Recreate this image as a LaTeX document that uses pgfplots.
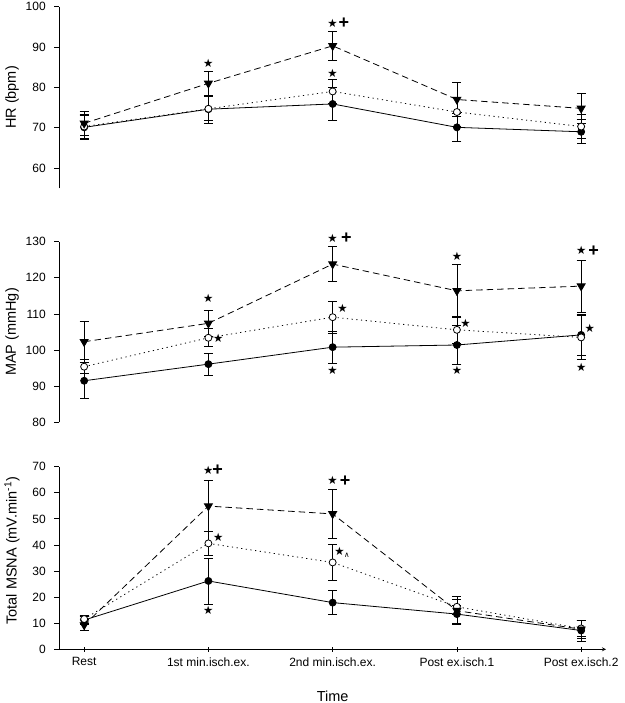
\documentclass[border=0pt]{standalone}
\usepackage{fontspec}
\setmainfont{Liberation Sans}
\newfontfamily\symfont{DejaVu Sans}
\usepackage{pgfplots}
\pgfplotsset{compat=1.18}

\pgfplotsset{
  panel/.style={
    scale only axis, width=546.7pt, xmin=-0.2, xmax=4.2,
    anchor=south west,
    axis y line=left,
    axis line style={-, black, line width=0.8pt},
    tick align=outside, major tick length=5pt,
    tick style={black, line width=0.8pt},
    ytick pos=left,
    clip=false,
    /pgf/number format/assume math mode=true,
    tick label style={font=\fontsize{12}{14}\selectfont},
    yticklabel style={xshift=-5pt},
    label style={font=\fontsize{14.5}{17}\selectfont},
    ylabel style={at={(axis description cs:-0.0865,0.5)}, anchor=center},
  },
  errs/.style={error bars/.cd, y dir=both, y explicit,
    error bar style={black, line width=0.8pt, solid},
    error mark options={rotate=90, mark size=4.5pt, line width=0.8pt, black, solid}},
  serT/.style={black, line width=0.8pt, dash pattern=on 6.5pt off 4pt,
    mark=triangle*, mark size=4.6pt, mark options={solid, rotate=180, fill=black}, errs},
  serO/.style={black, line width=0.8pt, dash pattern=on 1.2pt off 3.5pt,
    mark=*, mark size=3.5pt, mark options={solid, fill=white, draw=black}, errs},
  serF/.style={black, line width=0.8pt, solid,
    mark=*, mark size=3.5pt, mark options={solid, fill=black}, errs},
}
\tikzset{
  star/.style={font=\symfont\fontsize{11.5}{12}\selectfont, inner sep=0pt},
  plus/.style={font=\bfseries\fontsize{18}{18}\selectfont, inner sep=0pt},
}

\begin{document}
\begin{tikzpicture}[x=1pt,y=1pt]
\useasboundingbox (0,0) rectangle (624,703);

% ---------------- HR ----------------
\begin{axis}[panel, at={(59.3pt,514.7pt)}, height=181.6pt,
  ymin=55, ymax=100, ytick={60,70,80,90,100},
  axis x line=none, xtick=\empty,
  ylabel={HR (bpm)}]
\addplot[serF] coordinates {
 (0,70.1) +- (0,3.0) (1,74.6) +- (0,3.5) (2,75.9) +- (0,4.1) (3,70.1) +- (0,3.5) (4,69.0) +- (0,3.0)};
\addplot[serO] coordinates {
 (0,70.3) +- (0,3.0) (1,74.7) +- (0,3.0) (2,79.0) +- (0,3.0) (3,73.9) +- (0,3.5) (4,70.3) +- (0,3.0)};
\addplot[serT] coordinates {
 (0,71.1) +- (0,2.9) (1,81.0) +- (0,2.9) (2,90.3) +- (0,3.5) (3,77.0) +- (0,4.2) (4,74.8) +- (0,3.7)};
\node[star] at (axis cs:1,86.0) {★};
\node[star] at (axis cs:2,95.9) {★};
\node[plus] at (axis cs:2.09,95.9) {+};
\node[star] at (axis cs:2,83.6) {★};
\end{axis}

% ---------------- MAP ----------------
\begin{axis}[panel, at={(59.3pt,280.7pt)}, height=180.6pt,
  ymin=80, ymax=130, ytick={80,90,100,110,120,130},
  axis x line=none, xtick=\empty,
  ylabel={MAP (mmHg)}]
\addplot[serF] coordinates {
 (0,91.5) +- (0,5.0) (1,96.1) +- (0,3.0) (2,100.8) +- (0,4.5) (3,101.4) +- (0,5.5) (4,104.2) +- (0,5.8)};
\addplot[serO] coordinates {
 (0,95.4) +- (0,2.0) (1,103.4) +- (0,2.5) (2,109.1) +- (0,4.5) (3,105.6) +- (0,3.7) (4,103.5) +- (0,6.0)};
\addplot[serT] coordinates {
 (0,102.3) +- (0,5.7) (1,107.4) +- (0,3.5) (2,123.8) +- (0,4.8) (3,116.4) +- (0,7.3) (4,117.7) +- (0,7.2)};
\node[star] at (axis cs:1,114.3) {★};
\node[star] at (axis cs:1.08,103.2) {★};
\node[star] at (axis cs:2,130.9) {★};
\node[plus] at (axis cs:2.11,130.9) {+};
\node[star] at (axis cs:2.08,111.6) {★};
\node[star] at (axis cs:2,94.5) {★};
\node[star] at (axis cs:3,125.8) {★};
\node[star] at (axis cs:3.07,107.4) {★};
\node[star] at (axis cs:3,94.5) {★};
\node[star] at (axis cs:4,127.5) {★};
\node[plus] at (axis cs:4.1,127.5) {+};
\node[star] at (axis cs:4.07,106.0) {★};
\node[star] at (axis cs:4,95.1) {★};
\end{axis}

% ---------------- MSNA ----------------
\begin{axis}[panel, at={(59.3pt,53.7pt)}, height=182.6pt,
  ymin=0, ymax=70, ytick={0,10,...,70},
  axis x line=bottom, xtick={0,1,2,3,4}, xtick pos=left,
  xticklabels={Rest,1st min.isch.ex.,2nd min.isch.ex.,Post ex.isch.1,Post ex.isch.2},
  xticklabel style={yshift=-2pt},
  xlabel={Time},
  xlabel style={at={(axis description cs:0.5,0)}, anchor=center, yshift=-46.7pt},
  ylabel style={at={(axis description cs:-0.0865,0.54)}},
  ylabel={Total MSNA (mV.min\textsuperscript{-1})}]
\addplot[serF] coordinates {
 (0,11.2) +- (0,1.5) (1,26.2) +- (0,8.8) (2,17.9) +- (0,4.6) (3,13.5) +- (0,3.5) (4,7.2) +- (0,4.0)};
\addplot[serO] coordinates {
 (0,11.6) +- (0,1.5) (1,40.6) +- (0,4.5) (2,33.3) +- (0,6.8) (3,16.3) +- (0,3.0) (4,8.0) +- (0,3.0)};
\addplot[serT] coordinates {
 (0,9.3) +- (0,2.0) (1,54.9) +- (0,9.7) (2,51.9) +- (0,9.4) (3,14.8) +- (0,5.4) (4,7.7) +- (0,3.5)};
\node[star] at (axis cs:1,68.5) {★};
\node[plus] at (axis cs:1.075,68.5) {+};
\node[star] at (axis cs:1.08,42.9) {★};
\node[star] at (axis cs:1,14.8) {★};
\node[star] at (axis cs:2,64.6) {★};
\node[plus] at (axis cs:2.1,64.6) {+};
\node[star] at (axis cs:2.055,37.4) {★};
\node[font=\symfont\fontsize{7.5}{7.5}\selectfont, inner sep=0pt] at (axis cs:2.115,36.0) {∧};
\end{axis}
\end{tikzpicture}
\end{document}
